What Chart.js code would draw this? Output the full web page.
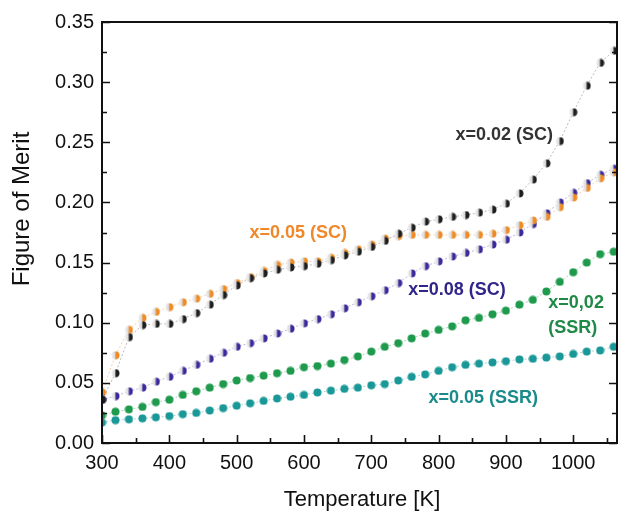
<!DOCTYPE html>
<html><head><meta charset="utf-8">
<script src="https://cdn.jsdelivr.net/npm/chart.js@4.4.0/dist/chart.umd.min.js"></script>
<style>html,body{margin:0;padding:0;background:#fff;}</style>
</head><body>
<canvas id="c" width="622" height="512" style="width:622px;height:512px;display:block"></canvas>
<script>
const temperatures = [300,320,340,360,380,400,420,440,460,480,500,520,540,560,580,600,620,640,660,680,700,720,740,760,780,800,820,840,860,880,900,920,940,960,980,1000,1020,1040,1060];
const x002SC = [0.036,0.058,0.088,0.098,0.099,0.099,0.103,0.108,0.115,0.123,0.131,0.137,0.141,0.144,0.146,0.147,0.149,0.152,0.156,0.159,0.163,0.168,0.174,0.179,0.184,0.186,0.188,0.1895,0.1915,0.194,0.199,0.2075,0.219,0.2325,0.251,0.275,0.297,0.316,0.326];
const x005SC = [0.042,0.073,0.094,0.104,0.109,0.113,0.117,0.120,0.124,0.128,0.133,0.138,0.143,0.148,0.150,0.151,0.151,0.154,0.158,0.161,0.165,0.170,0.172,0.173,0.173,0.173,0.173,0.173,0.173,0.174,0.177,0.181,0.185,0.188,0.196,0.204,0.212,0.220,0.225];
const x008SC = [0.036,0.039,0.043,0.046,0.051,0.055,0.060,0.065,0.070,0.075,0.080,0.083,0.087,0.091,0.095,0.0995,0.103,0.107,0.112,0.117,0.122,0.127,0.133,0.141,0.147,0.151,0.155,0.158,0.161,0.165,0.169,0.175,0.182,0.191,0.200,0.208,0.216,0.223,0.228];
const x002SSR = [0.023,0.026,0.028,0.030,0.034,0.036,0.040,0.043,0.046,0.049,0.052,0.054,0.056,0.058,0.060,0.063,0.064,0.066,0.069,0.072,0.076,0.080,0.083,0.087,0.091,0.094,0.097,0.102,0.104,0.107,0.110,0.115,0.119,0.126,0.134,0.142,0.150,0.157,0.159];
const x005SSR = [0.017,0.019,0.0197,0.0205,0.0214,0.0224,0.024,0.025,0.027,0.029,0.031,0.033,0.035,0.037,0.0385,0.040,0.042,0.0435,0.045,0.046,0.048,0.049,0.052,0.055,0.057,0.060,0.063,0.065,0.066,0.067,0.068,0.0695,0.070,0.071,0.072,0.074,0.076,0.077,0.080];
const yTickLabels = ['0.00','0.05','0.10','0.15','0.20','0.25','0.30','0.35'];
const xTickLabels = ['300','400','500','600','700','800','900','1000'];
const seriesNames = ['x=0.02 (SC)','x=0.05 (SC)','x=0.08 (SC)','x=0.02 (SSR)','x=0.05 (SSR)'];
const annotations = [
  {text:'x=0.02 (SC)', T:825, v:0.256, color:'#333333'},
  {text:'x=0.05 (SC)', T:519, v:0.1745, color:'#f0882a'},
  {text:'x=0.08 (SC)', T:755, v:0.127, color:'#30268a'},
  {text:'x=0,02', T:963, v:0.1164, color:'#1e8a46'},
  {text:'(SSR)', T:963, v:0.0956, color:'#1e8a46'},
  {text:'x=0.05 (SSR)', T:785, v:0.0374, color:'#1b8a8a'}
];
const yTitle = 'Figure of Merit';
const xTitle = 'Temperature [K]';

function makeDot(color, half) {
  const c = document.createElement('canvas');
  c.width = 9; c.height = 9;
  const g = c.getContext('2d');
  g.beginPath(); g.arc(4.5, 4.5, 4, 0, 2*Math.PI);
  if (half) {
    const gr = g.createLinearGradient(0.5, 0, 8.5, 0);
    gr.addColorStop(0, '#f2f2f2'); gr.addColorStop(0.42, '#d8d8d8');
    gr.addColorStop(0.55, color); gr.addColorStop(1, color);
    g.fillStyle = gr;
  } else g.fillStyle = color;
  g.fill();
  return c;
}
const dotColors = ['#1e1e1e','#f08a24','#3a2a9c','#1e9a4c','#1a9898'];
const halves = [true, true, true, false, false];
const seriesData = [x002SC, x005SC, x008SC, x002SSR, x005SSR];
const lineColors = ['rgba(140,140,140,0.6)','rgba(240,160,90,0.5)','rgba(120,110,190,0.5)','rgba(90,170,120,0.5)','rgba(90,170,170,0.5)'];

const datasets = seriesData.map((arr, i) => ({
  label: seriesNames[i],
  data: temperatures.map((t, j) => ({x: t, y: arr[j]})),
  pointStyle: makeDot(dotColors[i], halves[i]),
  pointRadius: 4,
  showLine: true,
  borderColor: lineColors[i],
  borderWidth: 1,
  borderDash: [2, 2],
  backgroundColor: dotColors[i]
}));

const framePlugin = {
  id: 'frame',
  afterDatasetsDraw(chart) {
    const {ctx, chartArea: a, scales: {x, y}} = chart;
    ctx.save();
    ctx.strokeStyle = '#111'; ctx.lineWidth = 2;
    ctx.strokeRect(a.left, a.top, a.right - a.left, a.bottom - a.top);
    ctx.lineWidth = 1.6;
    ctx.beginPath();
    for (let v = 0; v <= 0.3501; v += 0.025) {
      const py = Math.round(y.getPixelForValue(v)) + 0.5;
      const major = Math.abs(v / 0.05 - Math.round(v / 0.05)) < 1e-6;
      const L = major ? 8 : 5;
      ctx.moveTo(a.left, py); ctx.lineTo(a.left + L, py);
      ctx.moveTo(a.right, py); ctx.lineTo(a.right - L, py);
    }
    for (let t = 300; t <= 1065; t += 50) {
      const px = Math.round(x.getPixelForValue(t)) + 0.5;
      const major = t % 100 === 0;
      const L = major ? 8 : 5;
      ctx.moveTo(px, a.bottom); ctx.lineTo(px, a.bottom - L);
    }
    ctx.stroke();
    ctx.font = 'bold 18px "Liberation Sans", Arial, sans-serif';
    ctx.textBaseline = 'middle'; ctx.textAlign = 'left';
    annotations.forEach(an => {
      ctx.fillStyle = an.color;
      ctx.fillText(an.text, x.getPixelForValue(an.T), y.getPixelForValue(an.v));
    });
    // axis titles
    ctx.fillStyle = '#111';
    ctx.font = '24px "Liberation Sans", Arial, sans-serif';
    ctx.textAlign = 'center';
    ctx.save();
    ctx.translate(22, 209);
    ctx.rotate(-Math.PI / 2);
    ctx.fillText(yTitle, 0, 0);
    ctx.restore();
    ctx.font = '22px "Liberation Sans", Arial, sans-serif';
    ctx.fillText(xTitle, 362, 500);
    ctx.restore();
  }
};

new Chart(document.getElementById('c'), {
  type: 'scatter',
  data: {datasets},
  options: {
    responsive: false,
    animation: false,
    devicePixelRatio: 1,
    layout: {padding: {top: 22, right: 4, left: 0, bottom: 0}},
    plugins: {legend: {display: false}, tooltip: {enabled: false}},
    scales: {
      x: {
        type: 'linear', min: 300, max: 1065,
        afterBuildTicks(s) { s.ticks = xTickLabels.map(v => ({value: +v})); },
        afterFit(s) { s.height = 69; },
        ticks: {callback: (v) => String(v), font: {size: 20, family: '"Liberation Sans", Arial'}, color: '#111', padding: 8, maxRotation: 0, autoSkip: false},
        grid: {display: false, drawTicks: false},
        border: {display: false},
        title: {display: false}
      },
      y: {
        type: 'linear', min: 0, max: 0.35,
        afterBuildTicks(s) { s.ticks = yTickLabels.map(v => ({value: +v})); },
        afterFit(s) { s.width = 102; },
        ticks: {callback: (v) => v.toFixed(2), font: {size: 20, family: '"Liberation Sans", Arial'}, color: '#111', padding: 8, autoSkip: false},
        grid: {display: false, drawTicks: false},
        border: {display: false},
        title: {display: false}
      }
    }
  },
  plugins: [framePlugin]
});
</script>
</body></html>
